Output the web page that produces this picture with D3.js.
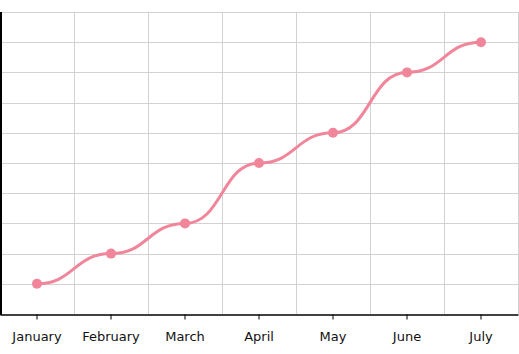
<!DOCTYPE html>
<html>
<head>
<meta charset="utf-8">
<script src="https://cdn.jsdelivr.net/npm/d3@7"></script>
<style>
  body { margin: 0; background: #fff; }
  svg { display: block; }
</style>
</head>
<body>
<script>
const months = ['January', 'February', 'March', 'April', 'May', 'June', 'July']
const values = [1, 2, 3, 5, 6, 8, 9]
const yTicks = d3.range(0, 11)

const [width, height] = [519, 354]
const margin = {top: 12, right: 1, bottom: 40, left: 0}

const svg = d3.select('body')
    .append('svg')
        .attr('width', width)
        .attr('height', height)

const x = d3.scaleBand()
    .domain(months)
    .range([margin.left, width - margin.right])

const y = d3.scaleLinear()
    .domain([0, 10])
    .range([height - margin.bottom, margin.top])

const grid = svg.append('g').attr('id', 'grid')

// vertical grid lines sit between the categories
grid.selectAll('.vgrid')
    .data(months)
    .enter()
    .append('line')
        .attr('x1', (d, i) => Math.round(x(d) + x.bandwidth()) + 0.5)
        .attr('x2', (d, i) => Math.round(x(d) + x.bandwidth()) + 0.5)
        .attr('y1', margin.top)
        .attr('y2', height - margin.bottom)
        .attr('stroke', '#d2d2d2')

grid.selectAll('.hgrid')
    .data(yTicks.slice(1))
    .enter()
    .append('line')
        .attr('x1', margin.left)
        .attr('x2', width - margin.right)
        .attr('y1', d => Math.round(y(d)) + 0.5)
        .attr('y2', d => Math.round(y(d)) + 0.5)
        .attr('stroke', '#d2d2d2')

// axes
const xAxis = svg.append('g')
    .attr('transform', `translate(0,${Math.round(y(0)) + 0.5})`)
    .call(d3.axisBottom(x).tickSize(5).tickPadding(12).tickSizeOuter(0))

xAxis.select('.domain').attr('stroke', '#000').attr('stroke-width', 1.5)
xAxis.selectAll('.tick line').attr('stroke', '#000')
xAxis.selectAll('.tick text')
    .attr('fill', '#111')
    .style('font-family', 'Verdana, "DejaVu Sans", sans-serif')
    .style('font-size', '13px')

svg.append('line')
    .attr('x1', 1).attr('x2', 1)
    .attr('y1', margin.top)
    .attr('y2', Math.round(y(0)) + 1)
    .attr('stroke', '#000')
    .attr('stroke-width', 2)

const cx = m => x(m) + x.bandwidth() / 2

const line = d3.line()
    .x((d, i) => cx(months[i]))
    .y(d => y(d))
    .curve(d3.curveBumpX)

svg.append('path')
    .datum(values)
    .attr('fill', 'none')
    .attr('stroke', '#f1869b')
    .attr('stroke-width', 3)
    .attr('d', line)

svg.append('g')
    .selectAll('circle')
    .data(values)
    .enter()
    .append('circle')
        .attr('cx', (d, i) => cx(months[i]))
        .attr('cy', d => y(d))
        .attr('r', 5)
        .attr('fill', '#f1869b')
</script>
</body>
</html>
